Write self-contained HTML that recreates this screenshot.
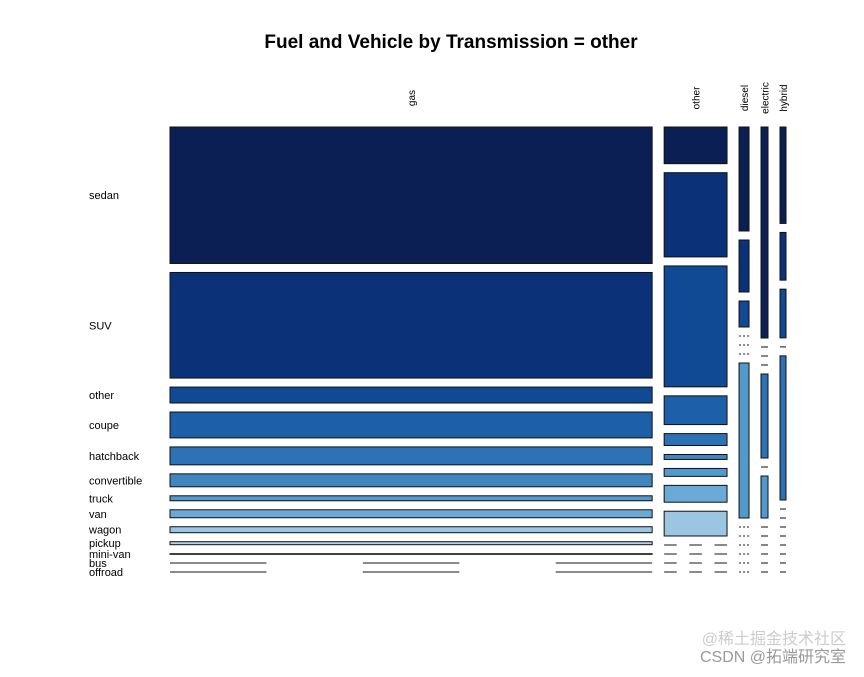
<!DOCTYPE html>
<html><head><meta charset="utf-8"><style>
body{margin:0;background:#fff;width:864px;height:672px;overflow:hidden;font-family:"Liberation Sans","Noto Sans CJK SC",sans-serif}
</style></head><body>
<svg id="chart" width="864" height="672" xmlns="http://www.w3.org/2000/svg" font-family="Liberation Sans, Noto Sans CJK SC, sans-serif">
<text x="451" y="48" text-anchor="middle" font-size="19" font-weight="bold">Fuel and Vehicle by Transmission = other</text>
<g id="marks"></g>
<text x="846" y="644" text-anchor="end" font-size="16" fill="#ccc">@稀土掘金技术社区</text>
<text x="846" y="662" text-anchor="end" font-size="16" fill="#999">CSDN @拓端研究室</text>
</svg>
<script>
const fuels = ["gas","other","diesel","electric","hybrid"];
const fuelTotals = [483, 63, 10, 7, 6];
const vehicles = ["sedan","SUV","other","coupe","hatchback","convertible","truck","van","wagon","pickup","mini-van","bus","offroad"];
const gasCounts      = [137,106,16,26,18,13,5,8,6,3,0.3,0,0];
const otherCounts    = [37,85,122,29,12,5,8,17,25,0,0,0,0];
const dieselCounts   = [104,52,26,0,0,0,155,0,0,0,0,0,0];
const electricCounts = [211,0,0,0,84,0,42,0,0,0,0,0,0];
const hybridCounts   = [97,48,49,0,145,0,0,0,0,0,0,0,0];
const counts = [gasCounts, otherCounts, dieselCounts, electricCounts, hybridCounts];
const colors = ["#0b1f55","#0b3278","#104a94","#1d5fa8","#2c72b5","#3f86c1","#5299cd","#6aaad6","#9bc5e0","#b6d4e9","#c8dcec","#d6e5f1","#e2ecf5"];

const NS="http://www.w3.org/2000/svg";
const g=document.getElementById('marks');
const X0=170,X1=786,Y0=127,Y1=572,GX=12,GY=9;
const totalW=(X1-X0)-GX*(fuels.length-1);
const sumF=fuelTotals.reduce((a,b)=>a+b,0);
const availH=(Y1-Y0)-GY*(vehicles.length-1);
function colW(i){return fuelTotals[i]/sumF*totalW;}
let x=X0;
const rowCenters=[];
fuels.forEach((f,i)=>{
  const w=colW(i);
  const c=counts[i];const s=c.reduce((a,b)=>a+b,0);
  let y=Y0;
  const lab=document.createElementNS(NS,'text');
  
  
  lab.setAttribute('transform',`translate(${x+w/2+4},${98}) rotate(-90)`);
  lab.setAttribute('text-anchor','middle');lab.setAttribute('font-size','10');
  lab.textContent=f;g.appendChild(lab);
  c.forEach((v,j)=>{
    const h=v/s*availH;
    if(i===0)rowCenters.push(y+h/2);
    if(v===0){
      const l=document.createElementNS(NS,'line');
      
      
      l.setAttribute('x1',x);l.setAttribute('x2',x+w);l.setAttribute('y1',y);l.setAttribute('y2',y);
      l.setAttribute('stroke','#444');l.setAttribute('stroke-width','1.3');
      if(w>9) l.setAttribute('stroke-dasharray',`${w/5} ${w/5}`);
      else if(w>8) l.setAttribute('stroke-dasharray','2.5 1.3');
      g.appendChild(l);
    }else{
      const r=document.createElementNS(NS,'rect');
      
      
      r.setAttribute('x',x);r.setAttribute('y',y);r.setAttribute('width',w);r.setAttribute('height',Math.max(h,0.6));
      r.setAttribute('fill',colors[j]);r.setAttribute('stroke','#111');r.setAttribute('stroke-width','1');
      g.appendChild(r);
    }
    y+=h+GY;
  });
  x+=w+GX;
});
vehicles.forEach((v,j)=>{
  const t=document.createElementNS(NS,'text');
  
  
  t.setAttribute('x',89);t.setAttribute('y',rowCenters[j]+4);t.setAttribute('font-size','11');
  t.textContent=v;g.appendChild(t);
});
</script>
</body></html>
